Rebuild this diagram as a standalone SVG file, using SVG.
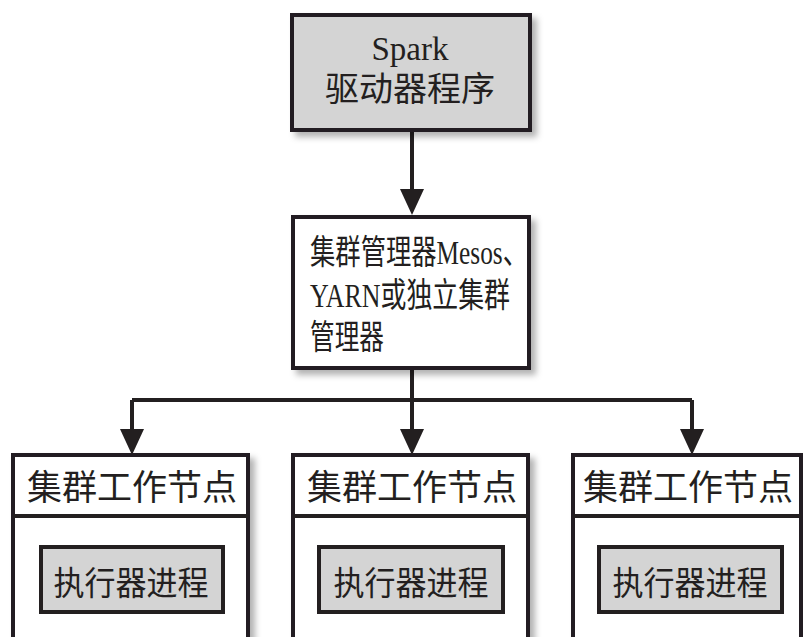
<svg xmlns="http://www.w3.org/2000/svg" width="803" height="637" viewBox="0 0 803 637">
<style>
.box{fill:#ffffff;stroke:#231f20;stroke-width:4;filter:url(#sh)}
.gbox{fill:#d4d4d4;stroke:#231f20;stroke-width:4}
.gtop{fill:#d4d4d4;stroke:#231f20;stroke-width:4;filter:url(#sh)}
.div{stroke:#231f20;stroke-width:4}
.t{font-family:'Liberation Serif','Noto Sans CJK SC',serif;fill:#231f20}
.conn{fill:none;stroke:#231f20;stroke-width:4}
</style>
<defs>
<filter id="sh" x="-10%" y="-10%" width="130%" height="130%">
<feDropShadow dx="5" dy="5" stdDeviation="3" flood-color="#000" flood-opacity="0.3"/>
</filter>
<marker id="ah" markerUnits="userSpaceOnUse" viewBox="0 0 26 24" refX="14" refY="12" markerWidth="26" markerHeight="24" orient="auto">
<path d="M0,0 L26,12 L0,24 z" fill="#231f20"/>
</marker>
</defs>
<rect width="803" height="637" fill="#ffffff"/>
<g id="connectors">
<path class="conn" d="M412,130 V203" marker-end="url(#ah)"/>
<path class="conn" d="M412,368 V400"/>
<path class="conn" d="M132,400 H692"/>
<path class="conn" d="M132,400 V443" marker-end="url(#ah)"/>
<path class="conn" d="M412,400 V443" marker-end="url(#ah)"/>
<path class="conn" d="M692,400 V443" marker-end="url(#ah)"/>
</g>
<g id="driver">
<rect class="gtop" x="292" y="15" width="238" height="115"/>
<text class="t" x="410" y="60" font-size="33" text-anchor="middle">Spark</text>
<text class="t" x="410" y="101" font-size="34" text-anchor="middle">驱动器程序</text>
</g>
<g id="manager">
<rect class="box" x="293" y="217" width="236" height="151"/>
<text class="t" x="310" y="264" font-size="34" textLength="218" lengthAdjust="spacingAndGlyphs">集群管理器Mesos、</text>
<text class="t" x="310" y="307" font-size="34" textLength="200" lengthAdjust="spacingAndGlyphs">YARN或独立集群</text>
<text class="t" x="310" y="349" font-size="34" textLength="74" lengthAdjust="spacingAndGlyphs">管理器</text>
</g>
<g id="worker1">
<rect class="box" x="13" y="455" width="235" height="210"/>
<line class="div" x1="13" y1="516" x2="248" y2="516"/>
<text class="t" x="132" y="500" font-size="35" text-anchor="middle">集群工作节点</text>
<rect class="gbox" x="41" y="547" width="182" height="65"/>
<text class="t" x="131" y="595" font-size="33" text-anchor="middle" textLength="155" lengthAdjust="spacingAndGlyphs">执行器进程</text>
</g>
<g id="worker2">
<rect class="box" x="293" y="455" width="235" height="210"/>
<line class="div" x1="293" y1="516" x2="528" y2="516"/>
<text class="t" x="412" y="500" font-size="35" text-anchor="middle">集群工作节点</text>
<rect class="gbox" x="319" y="547" width="184" height="65"/>
<text class="t" x="411" y="595" font-size="33" text-anchor="middle" textLength="155" lengthAdjust="spacingAndGlyphs">执行器进程</text>
</g>
<g id="worker3">
<rect class="box" x="573" y="455" width="228" height="210"/>
<line class="div" x1="573" y1="516" x2="801" y2="516"/>
<text class="t" x="688" y="500" font-size="35" text-anchor="middle">集群工作节点</text>
<rect class="gbox" x="599" y="547" width="183" height="65"/>
<text class="t" x="690" y="595" font-size="33" text-anchor="middle" textLength="155" lengthAdjust="spacingAndGlyphs">执行器进程</text>
</g>
</svg>
